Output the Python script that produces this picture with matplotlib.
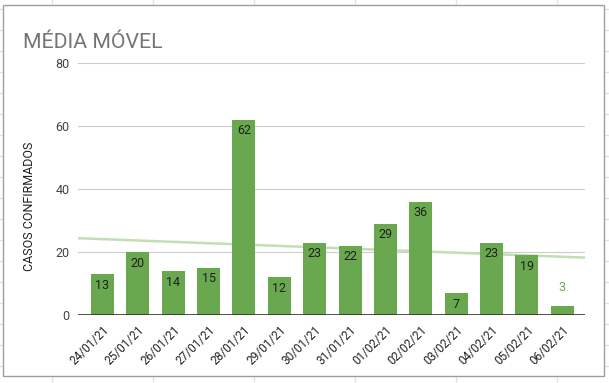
import matplotlib
matplotlib.use("Agg")
import matplotlib.pyplot as plt
from matplotlib.lines import Line2D
from matplotlib.patches import Rectangle
import numpy as np

plt.rcParams['font.family'] = ['Roboto', 'DejaVu Sans']

dates = ["24/01/21", "25/01/21", "26/01/21", "27/01/21", "28/01/21", "29/01/21",
         "30/01/21", "31/01/21", "01/02/21", "02/02/21", "03/02/21", "04/02/21",
         "05/02/21", "06/02/21"]
casos = [13, 20, 14, 15, 62, 12, 23, 22, 29, 36, 7, 23, 19, 3]
yticks = [0, 20, 40, 60, 80]
title = "MÉDIA MÓVEL"
ylabel = "CASOS CONFIRMADOS"

W, H = 609, 383
fig = plt.figure(figsize=(W / 100, H / 100), dpi=100)

# spreadsheet grid behind the chart
grid_c = "#e3e3e3"
for xp in [52, 153, 254, 355, 456, 557]:
    fig.add_artist(Line2D([xp / W, xp / W], [0, 1], color=grid_c, lw=1, zorder=-3))
for k in range(19):
    yp = 9 + 21 * k
    fig.add_artist(Line2D([0, 1], [1 - yp / H, 1 - yp / H], color=grid_c, lw=1, zorder=-3))
fig.add_artist(Rectangle((3 / W, 1 - 376 / H), (604 - 3) / W, (376 - 5) / H,
                         facecolor="white", edgecolor="#9e9e9e", lw=1, zorder=-2))

ax = fig.add_axes([78 / W, 1 - 315 / H, (585 - 78) / W, (315 - 63) / H])
ax.set_facecolor("none")

x = np.arange(len(casos))
bar_color = "#6aa84f"
ax.bar(x, casos, width=0.65, color=bar_color, zorder=3)

# trendline (linear fit of the data), drawn behind the bars
xlim = (-0.69, len(casos) - 1 + 0.64)
coef = np.polyfit(x, casos, 1)
xt = np.array(xlim)
ax.plot(xt, np.polyval(coef, xt), color="#c2dfb3", lw=1.8, zorder=2)

for xi, v in zip(x, casos):
    if v >= 6:
        ax.annotate(str(v), (xi, v), xytext=(0, -8), textcoords="offset points",
                    ha="center", va="center", fontsize=9, color="#1e1e1e", zorder=4)
    else:
        ax.annotate(str(v), (xi, v), xytext=(0, 13), textcoords="offset points",
                    ha="center", va="center", fontsize=9, color=bar_color, zorder=4)

ax.set_xlim(*xlim)
ax.set_ylim(0, 80)
ax.set_yticks(yticks)
ax.set_xticks(x)
ax.set_xticklabels(dates, rotation=45, ha="right", rotation_mode="anchor",
                   fontsize=8.5, color="#222222")
ax.tick_params(axis="x", length=0, pad=6)
ax.tick_params(axis="y", length=0, pad=6, labelsize=9, labelcolor="#444444")
ax.grid(axis="y", color="#cccccc", lw=0.8, zorder=0)
ax.set_axisbelow(True)
for s in ax.spines.values():
    s.set_visible(False)
ax.axhline(0, color="#333333", lw=1.2, zorder=5)

fig.text(23 / W, 1 - 48 / H, title, fontsize=15.3, color="#757575", ha="left", va="baseline")
fig.text(29.5 / W, 1 - 206 / H, ylabel, rotation=90, fontsize=9, color="#222222",
         ha="center", va="center")

fig.savefig("out.png", dpi=100)
